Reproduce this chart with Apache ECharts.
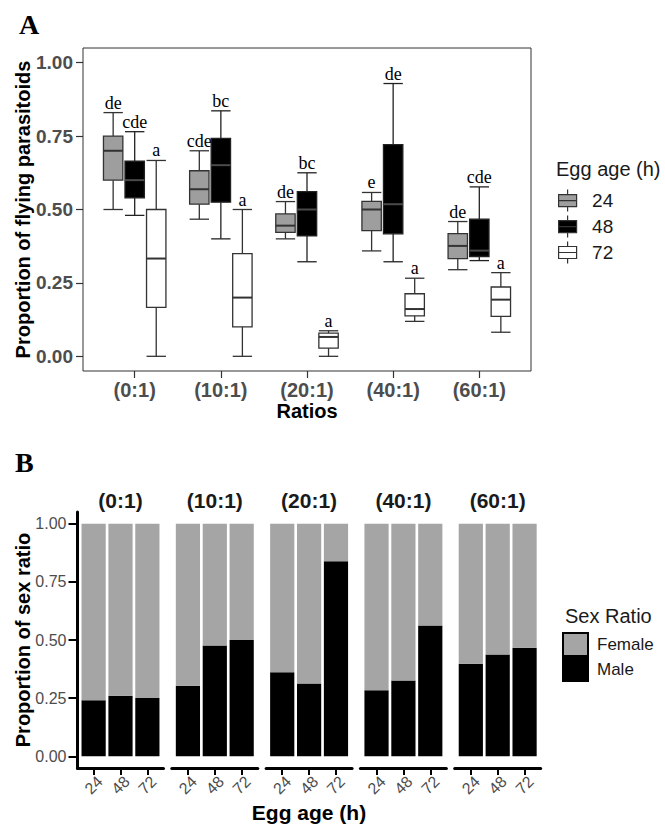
<!DOCTYPE html>
<html><head><meta charset="utf-8">
<script src="https://cdn.jsdelivr.net/npm/echarts@6/dist/echarts.min.js"></script>
<style>html,body{margin:0;padding:0;background:#fff}#c{width:665px;height:829px}</style>
</head><body><div id="c"></div>
<script>
// ---------- DATA ----------
const ratios = ['(0:1)', '(10:1)', '(20:1)', '(40:1)', '(60:1)'];
const eggAges = ['24', '48', '72'];
const yTicks = [0, 0.25, 0.5, 0.75, 1];
// Panel A: [min, Q1, median, Q3, max] per ratio
const box24 = [
  [0.50, 0.60, 0.70, 0.75, 0.83],
  [0.467, 0.518, 0.569, 0.632, 0.70],
  [0.40, 0.422, 0.445, 0.485, 0.527],
  [0.359, 0.428, 0.50, 0.528, 0.558],
  [0.295, 0.333, 0.376, 0.418, 0.459]
];
const box48 = [
  [0.48, 0.54, 0.60, 0.665, 0.765],
  [0.40, 0.525, 0.651, 0.742, 0.836],
  [0.322, 0.41, 0.50, 0.561, 0.625],
  [0.322, 0.417, 0.518, 0.721, 0.929],
  [0.326, 0.34, 0.36, 0.467, 0.577]
];
const box72 = [
  [0, 0.167, 0.333, 0.50, 0.667],
  [0, 0.10, 0.20, 0.35, 0.50],
  [0, 0.028, 0.066, 0.079, 0.087],
  [0.119, 0.138, 0.161, 0.213, 0.266],
  [0.082, 0.136, 0.193, 0.236, 0.285]
];
const letters24 = ['de', 'cde', 'de', 'e', 'de'];
const letters48 = ['cde', 'bc', 'bc', 'de', 'cde'];
const letters72 = ['a', 'a', 'a', 'a', 'a'];
// Panel B: proportions per ratio, for egg ages 24, 48, 72
const maleR0 = [0.241, 0.260, 0.251];
const maleR10 = [0.303, 0.476, 0.500];
const maleR20 = [0.361, 0.313, 0.838];
const maleR40 = [0.284, 0.326, 0.562];
const maleR60 = [0.398, 0.438, 0.467];
const femaleR0 = [0.759, 0.740, 0.749];
const femaleR10 = [0.697, 0.524, 0.500];
const femaleR20 = [0.639, 0.687, 0.162];
const femaleR40 = [0.716, 0.674, 0.438];
const femaleR60 = [0.602, 0.562, 0.533];
const maleAll = [maleR0, maleR10, maleR20, maleR40, maleR60];
const femaleAll = [femaleR0, femaleR10, femaleR20, femaleR40, femaleR60];

// ---------- STYLE ----------
const SANS = '"Liberation Sans", Arial, Helvetica, sans-serif';
const SERIF = '"Liberation Serif", "Times New Roman", serif';
const GRAY_TXT = '#4d4d4d';
const FILL24 = '#9e9e9e', FILL48 = '#000000', FILL72 = '#ffffff';
const FEMALE = '#a5a5a5', MALE = '#000000';
const BOX_HALF = 0.1125;

function boxRenderer(offset, fill, stroke, medStroke, letters) {
  return function (params, api) {
    const xc = api.value(0) + offset;
    const cx = api.coord([xc, 0])[0];
    const left = api.coord([xc - BOX_HALF, 0])[0];
    const right = api.coord([xc + BOX_HALF, 0])[0];
    const y = (i) => api.coord([xc, api.value(i)])[1];
    const yMin = y(1), yQ1 = y(2), yMed = y(3), yQ3 = y(4), yMax = y(5);
    const ls = { stroke: stroke, lineWidth: 1.3 };
    return {
      type: 'group',
      children: [
        { type: 'line', shape: { x1: cx, y1: yMax, x2: cx, y2: yQ3 }, style: ls },
        { type: 'line', shape: { x1: cx, y1: yQ1, x2: cx, y2: yMin }, style: ls },
        { type: 'line', shape: { x1: left, y1: yMax, x2: right, y2: yMax }, style: ls },
        { type: 'line', shape: { x1: left, y1: yMin, x2: right, y2: yMin }, style: ls },
        { type: 'rect', shape: { x: left, y: yQ3, width: right - left, height: yQ1 - yQ3 },
          style: { fill: fill, stroke: stroke, lineWidth: 1.3 } },
        { type: 'line', shape: { x1: left, y1: yMed, x2: right, y2: yMed },
          style: { stroke: medStroke, lineWidth: 2 } },
        { type: 'text', x: cx, y: yMax - 1,
          style: { text: letters[params.dataIndex], fill: '#000', font: '18px ' + SERIF,
                   textAlign: 'center', textVerticalAlign: 'bottom' } }
      ]
    };
  };
}

function boxData(arr) { return arr.map((b, i) => [i + 1].concat(b)); }

const grids = [];
const xAxes = [];
const yAxes = [];
const series = [];

// Panel A
grids.push({ left: 83, top: 48, width: 448, height: 323, show: true, borderColor: '#333',
  borderWidth: 1, backgroundColor: 'transparent', containLabel: false, outerBoundsMode: 'none' });
xAxes.push({
  gridIndex: 0, type: 'value', min: 0.4, max: 5.6,
  axisLine: { show: false, onZero: false },
  splitLine: { show: false },
  axisTick: { show: true, customValues: [1, 2, 3, 4, 5], length: 7, inside: false,
              lineStyle: { color: '#333', width: 1.2 } },
  axisLabel: { customValues: [1, 2, 3, 4, 5], formatter: (v) => ratios[Math.round(v) - 1],
               fontFamily: SANS, fontWeight: 'bold', fontSize: 20, color: GRAY_TXT, margin: 9 }
});
yAxes.push({
  gridIndex: 0, type: 'value', min: -0.05, max: 1.05,
  axisLine: { show: false, onZero: false },
  splitLine: { show: false },
  axisTick: { show: true, customValues: yTicks, length: 7, lineStyle: { color: '#333', width: 1.2 } },
  axisLabel: { customValues: yTicks, formatter: (v) => v.toFixed(2),
               fontFamily: SANS, fontWeight: 'bold', fontSize: 19, color: GRAY_TXT, margin: 10 }
});
series.push({ name: '24', type: 'custom', xAxisIndex: 0, yAxisIndex: 0, data: boxData(box24),
  itemStyle: { color: FILL24 }, encode: { x: 0, y: [1, 2, 3, 4, 5] },
  renderItem: boxRenderer(-0.25, FILL24, '#333', '#333', letters24) });
series.push({ name: '48', type: 'custom', xAxisIndex: 0, yAxisIndex: 0, data: boxData(box48),
  itemStyle: { color: FILL48 }, encode: { x: 0, y: [1, 2, 3, 4, 5] },
  renderItem: boxRenderer(0, FILL48, '#222', '#4a4a4a', letters48) });
series.push({ name: '72', type: 'custom', xAxisIndex: 0, yAxisIndex: 0, data: boxData(box72),
  itemStyle: { color: FILL72 }, encode: { x: 0, y: [1, 2, 3, 4, 5] },
  renderItem: boxRenderer(0.25, FILL72, '#333', '#333', letters72) });

// Panel B facets
const facetLefts = [77.5, 171.8, 266.1, 360.4, 454.7];
const FACET_W = 86, FACET_TOP = 512, FACET_H = 256;
facetLefts.forEach((l, k) => {
  const gi = k + 1;
  grids.push({ left: l, top: FACET_TOP, width: FACET_W, height: FACET_H, containLabel: false, outerBoundsMode: 'none' });
  xAxes.push({
    gridIndex: gi, type: 'value', min: 0.4, max: 3.6,
    axisLine: { show: true, onZero: false, lineStyle: { color: '#000', width: 3 } },
    splitLine: { show: false },
    axisTick: { show: true, customValues: [1, 2, 3], length: 7, lineStyle: { color: '#000', width: 2 } },
    axisLabel: { customValues: [1, 2, 3], formatter: (v) => eggAges[Math.round(v) - 1],
                 rotate: 45, align: 'center', verticalAlign: 'middle', margin: 17,
                 fontFamily: SANS, fontSize: 16, color: GRAY_TXT }
  });
  yAxes.push({
    gridIndex: gi, type: 'value', min: -0.05, max: 1.05, show: k === 0,
    axisLine: { show: k === 0, onZero: false, lineStyle: { color: '#000', width: 3 } },
    splitLine: { show: false },
    axisTick: { show: k === 0, customValues: yTicks, length: 9, lineStyle: { color: '#000', width: 2 } },
    axisLabel: { show: k === 0, customValues: yTicks, formatter: (v) => v.toFixed(2),
                 fontFamily: SANS, fontSize: 16, color: GRAY_TXT, margin: 11 }
  });
  // value first so that the stacked dimension is the y value
  series.push({ name: 'Male', type: 'bar', xAxisIndex: gi, yAxisIndex: gi, stack: 'sr' + k,
    barWidth: 24.2, encode: { x: 1, y: 0 },
    data: maleAll[k].map((v, i) => [v, i + 1]), itemStyle: { color: MALE } });
  series.push({ name: 'Female', type: 'bar', xAxisIndex: gi, yAxisIndex: gi, stack: 'sr' + k,
    barWidth: 24.2, encode: { x: 1, y: 0 },
    data: femaleAll[k].map((v, i) => [v, i + 1]), itemStyle: { color: FEMALE } });
});

const boxIcon = 'path://M9,0V5M0,5H18V17H0ZM0,11H18M9,17V22';

function txt(text, x, y, font, opts) {
  return Object.assign({ type: 'text', x: x, y: y,
    style: Object.assign({ text: text, font: font, fill: '#000', textAlign: 'center', textVerticalAlign: 'middle' }, opts || {}) });
}

const graphics = [
  txt('A', 19, 24, 'bold 28px ' + SERIF, { textAlign: 'left' }),
  txt('B', 15, 462, 'bold 28px ' + SERIF, { textAlign: 'left' }),
  Object.assign(txt('Proportion of flying parasitoids', 23, 209.5, 'bold 20px ' + SANS), { rotation: Math.PI / 2 }),
  txt('Ratios', 307, 411, 'bold 20px ' + SANS),
  txt('Egg age (h)', 556, 169, '20px ' + SANS, { textAlign: 'left', fill: '#1a1a1a' }),
  Object.assign(txt('Proportion of sex ratio', 23, 640, 'bold 20px ' + SANS), { rotation: Math.PI / 2 }),
  txt('Egg age (h)', 309, 812, 'bold 21px ' + SANS),
  txt('Sex Ratio', 565, 616, '20px ' + SANS, { textAlign: 'left', fill: '#1a1a1a' })
];
facetLefts.forEach((l, k) => {
  graphics.push(txt(ratios[k], l + FACET_W / 2, 500, 'bold 21px ' + SANS, { fill: '#1a1a1a' }));
});

const option = {
  animation: false,
  backgroundColor: '#fff',
  grid: grids,
  xAxis: xAxes,
  yAxis: yAxes,
  series: series,
  legend: [
    { data: [
        { name: '24', icon: boxIcon, itemStyle: { color: FILL24, borderColor: '#333', borderWidth: 1.2 } },
        { name: '48', icon: boxIcon, itemStyle: { color: FILL48, borderColor: '#333', borderWidth: 1.2 } },
        { name: '72', icon: boxIcon, itemStyle: { color: FILL72, borderColor: '#333', borderWidth: 1.2 } }
      ],
      orient: 'vertical', left: 558, top: 189, itemWidth: 19, itemHeight: 22, itemGap: 2.75,
      selectedMode: false, padding: 0,
      textStyle: { fontFamily: SANS, fontSize: 19, color: '#1a1a1a', padding: [0, 0, 0, 10] } },
    { data: [
        { name: 'Female', icon: 'rect', itemStyle: { color: FEMALE, borderColor: '#000', borderWidth: 2 } },
        { name: 'Male', icon: 'rect', itemStyle: { color: MALE, borderColor: '#000', borderWidth: 2 } }
      ],
      orient: 'vertical', left: 562, top: 632, itemWidth: 25, itemHeight: 23, itemGap: 0,
      selectedMode: false, padding: 0,
      textStyle: { fontFamily: SANS, fontSize: 17, color: '#1a1a1a', padding: [0, 0, 0, 4] } }
  ],
  graphic: graphics
};

const chart = echarts.init(document.getElementById('c'), null, { renderer: 'svg', width: 665, height: 829 });
chart.setOption(option);
</script>
</body></html>
